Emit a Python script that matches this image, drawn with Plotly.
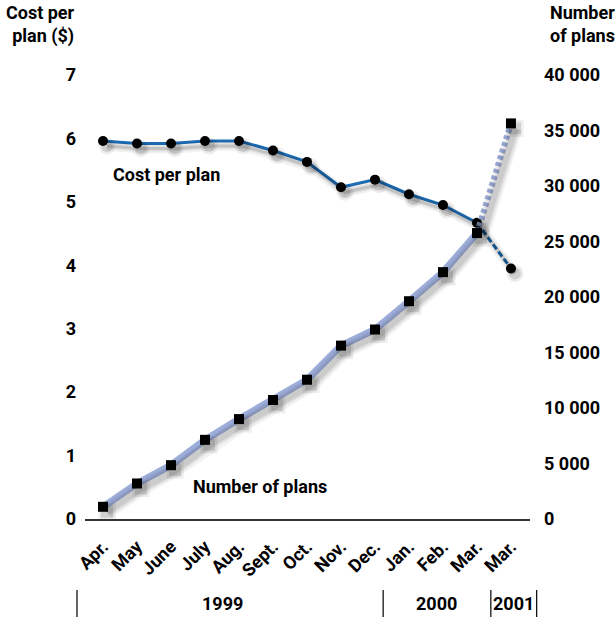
import plotly.graph_objects as go

months = ["Apr.", "May", "June", "July", "Aug.", "Sept.", "Oct.", "Nov.", "Dec.",
          "Jan.", "Feb.", "Mar.", "Mar."]
cost_per_plan = [5.96, 5.92, 5.92, 5.96, 5.96, 5.81, 5.63, 5.23, 5.35, 5.12, 4.95, 4.67, 3.95]
number_of_plans = [1100, 3200, 4850, 7130, 9000, 10720, 12550, 15620, 17070, 19620,
                   22240, 25760, 35640]
left_ticks = [0, 1, 2, 3, 4, 5, 6, 7]
right_ticks = [0, 5000, 10000, 15000, 20000, 25000, 30000, 35000, 40000]
right_tick_text = ["0", "5 000", "10 000", "15 000", "20 000", "25 000", "30 000",
                   "35 000", "40 000"]
years = ["1999", "2000", "2001"]

FONT = "Roboto, Liberation Sans Narrow, sans-serif"
COST_BLUE = "#1d6cb4"
PLAN_BLUE = "#9dadda"

idx = list(range(len(months)))
n = len(months)

X_RANGE = [-0.53, 12.56]
Y_RANGE = [0, 7]
Y2_RANGE = [0, 40000]
# shadow offset (pixels) -> shifted ranges for the shadow overlay axes
SH_DX, SH_DY = 4, 5
PLOT_W, PLOT_H = 445, 444
dx = SH_DX / PLOT_W * (X_RANGE[1] - X_RANGE[0])
dy1 = SH_DY / PLOT_H * (Y_RANGE[1] - Y_RANGE[0])
dy2 = SH_DY / PLOT_H * (Y2_RANGE[1] - Y2_RANGE[0])

fig = go.Figure()

# ---- shadows (drawn on offset overlay axes) ----
for w, a in [(15, 0.05), (11, 0.07), (7, 0.09)]:
    fig.add_trace(go.Scatter(x=idx, y=number_of_plans, xaxis="x2", yaxis="y4", mode="lines",
                             line=dict(color=f"rgba(0,0,0,{a})", width=w), hoverinfo="skip"))
for w, a in [(10, 0.05), (6, 0.08), (3, 0.12)]:
    fig.add_trace(go.Scatter(x=idx, y=cost_per_plan, xaxis="x2", yaxis="y3", mode="lines",
                             line=dict(color=f"rgba(0,0,0,{a})", width=w), hoverinfo="skip"))
for s, a in [(17, 0.07), (12, 0.12)]:
    fig.add_trace(go.Scatter(x=idx, y=number_of_plans, xaxis="x2", yaxis="y4", mode="markers",
                             marker=dict(symbol="square", size=s, color=f"rgba(0,0,0,{a})"),
                             hoverinfo="skip"))
    fig.add_trace(go.Scatter(x=idx, y=cost_per_plan, xaxis="x2", yaxis="y3", mode="markers",
                             marker=dict(symbol="circle", size=s, color=f"rgba(0,0,0,{a})"),
                             hoverinfo="skip"))

# Number of plans (right axis)
fig.add_trace(go.Scatter(x=idx[:n-1], y=number_of_plans[:n-1], yaxis="y2", mode="lines",
                         line=dict(color=PLAN_BLUE, width=7), hoverinfo="skip"))
fig.add_trace(go.Scatter(x=idx[n-2:], y=number_of_plans[n-2:], yaxis="y2", mode="lines",
                         line=dict(color=PLAN_BLUE, width=6, dash="4px,3px"), hoverinfo="skip"))
# Cost per plan (left axis)
fig.add_trace(go.Scatter(x=idx[:n-1], y=cost_per_plan[:n-1], mode="lines",
                         line=dict(color=COST_BLUE, width=3), hoverinfo="skip"))
fig.add_trace(go.Scatter(x=idx[n-2:], y=cost_per_plan[n-2:], mode="lines",
                         line=dict(color=COST_BLUE, width=3, dash="6px,3px"), hoverinfo="skip"))
# markers
fig.add_trace(go.Scatter(x=idx, y=number_of_plans, yaxis="y2", mode="markers",
                         marker=dict(symbol="square", size=10, color="black")))
fig.add_trace(go.Scatter(x=idx, y=cost_per_plan, mode="markers",
                         marker=dict(symbol="circle", size=10, color="black")))

tickfont = dict(family=FONT, size=18, color="black", weight="bold")
hidden = dict(showgrid=False, zeroline=False, showline=False, showticklabels=False,
              ticks="")

fig.update_layout(
    width=616, height=617,
    margin=dict(l=85, r=86, t=75, b=98),
    paper_bgcolor="white", plot_bgcolor="white",
    showlegend=False,
    xaxis=dict(range=X_RANGE, tickvals=idx, ticktext=months, tickangle=-45,
               tickfont=dict(family=FONT, size=18, color="black", weight="bold"),
               showgrid=False, zeroline=False, showline=True, linecolor="#333333",
               linewidth=2, ticks="", ticklabelstandoff=8),
    yaxis=dict(range=Y_RANGE, tickvals=left_ticks, tickfont=tickfont, showgrid=False,
               zeroline=False, showline=False, ticks="", ticklabelstandoff=8),
    yaxis2=dict(range=Y2_RANGE, tickvals=right_ticks, ticktext=right_tick_text,
                tickfont=tickfont, overlaying="y", side="right", showgrid=False,
                zeroline=False, showline=False, ticks="", ticklabelstandoff=13),
    xaxis2=dict(range=[X_RANGE[0] - dx, X_RANGE[1] - dx], overlaying="x", **hidden),
    yaxis3=dict(range=[Y_RANGE[0] + dy1, Y_RANGE[1] + dy1], overlaying="y", **hidden),
    yaxis4=dict(range=[Y2_RANGE[0] + dy2, Y2_RANGE[1] + dy2], overlaying="y", **hidden),
)

afont = dict(family=FONT, size=18, color="black", weight="bold")
fig.add_annotation(text="Cost per<br>plan ($)", xref="paper", yref="paper",
                   x=-0.018, y=1.168, xanchor="right", yanchor="top", align="right",
                   showarrow=False, font=afont)
fig.add_annotation(text="Number<br>of plans", xref="paper", yref="paper",
                   x=1.04, y=1.168, xanchor="left", yanchor="top", align="left",
                   showarrow=False, font=afont)
fig.add_annotation(text="Cost per plan", xref="paper", yref="paper",
                   x=0.184, y=0.775, xanchor="center", yanchor="middle",
                   showarrow=False, font=afont)
fig.add_annotation(text="Number of plans", xref="paper", yref="paper",
                   x=0.393, y=0.074, xanchor="center", yanchor="middle",
                   showarrow=False, font=afont)

# year row
year_x = [0.310, 0.790, 0.963]
for yr, xp in zip(years, year_x):
    fig.add_annotation(text=yr, xref="paper", yref="paper", x=xp, y=-0.190,
                       xanchor="center", yanchor="middle",
                       showarrow=False, font=afont)
for xp in [-0.018, 0.670, 0.912, 1.015]:
    fig.add_shape(type="line", xref="paper", yref="paper", x0=xp, x1=xp,
                  y0=-0.160, y1=-0.23, line=dict(color="black", width=1.2))

fig.write_html("out.html")
